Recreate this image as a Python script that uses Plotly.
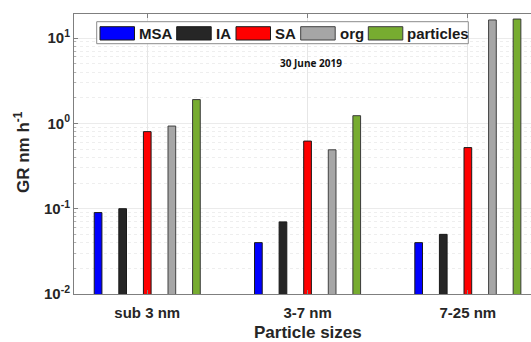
import plotly.graph_objects as go

# Growth rates per particle size range, 30 June 2019
categories = ["sub 3 nm", "3-7 nm", "7-25 nm"]
msa = [0.09, 0.04, 0.04]
ia = [0.10, 0.07, 0.05]
sa = [0.80, 0.62, 0.52]
org = [0.93, 0.49, 16.3]
particles = [1.9, 1.23, 16.7]

series_names = ["MSA", "IA", "SA", "org", "particles"]
series_values = [msa, ia, sa, org, particles]
fill_colors = ["#0000FF", "#262626", "#FF0000", "#A6A6A6", "#77AC30"]
edge_colors = ["#1a1a1a", "#1a1a1a", "#1a1a1a", "#404040", "#3a3a3a"]

W, H = 531, 342
PL, PT, PB = 74, 14, 294
PW, PH = W - PL, PB - PT

FONT = "Liberation Sans, Arial, sans-serif"


def px(x):
    return (x - PL) / PW


def py(y):
    return (PB - y) / PH


fig = go.Figure()
for name, vals, fc, ec in zip(series_names, series_values, fill_colors, edge_colors):
    fig.add_trace(go.Bar(
        x=categories, y=vals, name=name,
        marker=dict(color=fc, line=dict(color=ec, width=1)),
        showlegend=False,
    ))

# minor grid positions on the log axis (2..9 within each decade)
minor_vals = [k * 10.0 ** e for e in range(-2, 2) for k in range(2, 10)]

fig.update_layout(
    width=W, height=H,
    margin=dict(l=PL, r=0, t=PT, b=H - PB, autoexpand=False),
    paper_bgcolor="white", plot_bgcolor="white",
    barmode="group", bargap=0.233, bargroupgap=0.687,
    font=dict(family=FONT, color="#262626"),
    xaxis=dict(
        type="category", range=[-0.457, 2.394],
        showline=True, linecolor="#7f7f7f", linewidth=1, mirror="ticks",
        ticks="inside", ticklen=4, tickcolor="#7f7f7f",
        showgrid=True, gridcolor="#e6e6e6", gridwidth=1,
        tickfont=dict(size=15, family=FONT, weight="bold", color="#262626"),
        ticklabelstandoff=5,
        automargin=False,
    ),
    yaxis=dict(
        type="log", range=[-2, 1.282],
        tickvals=[0.01, 0.1, 1, 10],
        ticktext=["10<sup>-2</sup>", "10<sup>-1</sup>", "10<sup>0</sup>", "10<sup>1</sup>"],
        showline=True, linecolor="#7f7f7f", linewidth=1,
        ticks="inside", ticklen=4, tickcolor="#7f7f7f",
        showgrid=True, gridcolor="#ebebeb", gridwidth=1,
        minor=dict(tickvals=minor_vals, showgrid=True, gridcolor="#eeeeee",
                   griddash="dot", ticks="inside", ticklen=2, tickcolor="#b0b0b0"),
        tickfont=dict(size=15, family=FONT, weight="bold", color="#262626"),
        automargin=False,
    ),
)

annotations = [
    dict(text="30 June 2019", x=px(311), y=py(63), xref="paper", yref="paper",
         showarrow=False, xanchor="center", yanchor="middle",
         font=dict(size=10, family="Open Sans, sans-serif", weight="bold", color="#111111")),
    dict(text="Particle sizes", x=px(307.7), y=py(332), xref="paper", yref="paper",
         showarrow=False, xanchor="center", yanchor="middle",
         font=dict(size=17, family=FONT, weight="bold", color="#262626")),
    dict(text="GR nm h<sup>-1</sup>", x=px(22), y=py(152), xref="paper", yref="paper",
         showarrow=False, xanchor="center", yanchor="middle", textangle=-90,
         font=dict(size=17, family=FONT, weight="bold", color="#262626")),
]

shapes = [
    # legend frame
    dict(type="rect", xref="paper", yref="paper",
         x0=px(96.7), x1=px(468.3), y0=py(43.7), y1=py(21.7),
         fillcolor="white", line=dict(color="#8c8c8c", width=1), layer="above"),
]

# legend entries: swatch left edge and label left edge (pixels)
legend_swatch_x = [100, 176.7, 236, 300.7, 368.3]
legend_text_x = [137, 213.5, 272.5, 337.5, 405]
for name, fc, ec, sx, tx in zip(series_names, fill_colors, edge_colors,
                                legend_swatch_x, legend_text_x):
    shapes.append(dict(type="rect", xref="paper", yref="paper",
                       x0=px(sx), x1=px(sx + 34.5), y0=py(40), y1=py(26.7),
                       fillcolor=fc, line=dict(color=ec, width=1), layer="above"))
    annotations.append(dict(text=name, x=px(tx), y=py(33.5), xref="paper", yref="paper",
                            showarrow=False, xanchor="left", yanchor="middle",
                            font=dict(size=15, family=FONT, weight="bold", color="#1a1a1a")))

fig.update_layout(shapes=shapes, annotations=annotations)

fig.write_html("out.html")
